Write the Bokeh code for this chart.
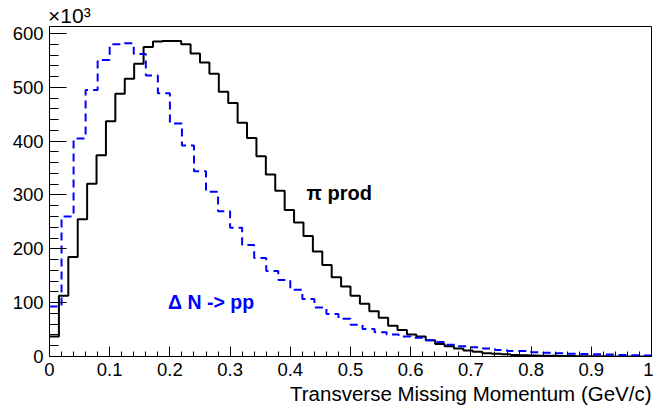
import numpy as np
from bokeh.plotting import figure
from bokeh.models import ColumnDataSource, Label, FixedTicker, Range1d, Title, LinearAxis
from bokeh.embed import file_html
from bokeh.resources import INLINE

# ---- data (counts in units of 10^3) ----
pi_prod_counts = [37, 113, 185, 255, 321, 374, 437, 488, 516, 544, 575, 585, 586, 586, 580, 563,
                  546, 525, 492, 471, 434, 406, 372, 338, 308, 272, 249, 224, 195, 170, 147, 130,
                  113, 98, 84, 72, 57, 49, 41, 37, 30, 23, 19, 15, 11, 9, 6, 5,
                  4, 3, 2.5, 2, 1.5, 1.2, 1.0, 0.8, 0.6, 0.5, 0.4, 0.3, 0.2, 0.2, 0.1, 0.1]
delta_counts = [93, 260, 405, 495, 551, 580, 582, 562, 522, 489, 433, 392, 344, 306, 270, 239,
                207, 183, 159, 142, 124, 107, 91, 79, 70, 59, 51, 45, 41, 37, 35, 30,
                27, 22, 19, 17, 15, 12, 10, 10, 8, 7, 6, 5, 4.5, 4, 3.5, 3, 2.5, 2]
x_min, x_max = 0.0, 1.0
y_max = 613
x_ticks = [0, 0.1, 0.2, 0.3, 0.4, 0.5, 0.6, 0.7, 0.8, 0.9, 1.0]
x_tick_labels = ["0", "0.1", "0.2", "0.3", "0.4", "0.5", "0.6", "0.7", "0.8", "0.9", "1"]
y_ticks = [0, 100, 200, 300, 400, 500, 600]
x_title = "Transverse Missing Momentum (GeV/c)"
y_scale_text = "\u00d710\u00b3"
label_pi = "\u03c0 prod"
label_delta = "\u0394 N -> pp"


def step_source(counts):
    n = len(counts)
    edges = np.linspace(x_min, x_max, n + 1)
    return ColumnDataSource(dict(x=edges, y=list(counts) + [counts[-1]]))


FONT = "Liberation Sans"

p = figure(width=653, height=413, output_backend="svg", toolbar_location=None, title=None,
           x_range=Range1d(x_min, x_max), y_range=Range1d(0, y_max),
           min_border_left=49, min_border_right=2, min_border_top=25, min_border_bottom=57)
p.grid.visible = False
p.outline_line_color = "black"
p.outline_line_width = 1
p.background_fill_color = "white"
p.border_fill_color = "white"

p.step("x", "y", source=step_source(pi_prod_counts), mode="after",
       line_color="black", line_width=2)
p.step("x", "y", source=step_source(delta_counts), mode="after",
       line_color="blue", line_width=2, line_dash="8 5")

# axes
xa = p.xaxis[0]
xa.ticker = FixedTicker(ticks=x_ticks, minor_ticks=[i / 50 for i in range(51)])
xa.major_label_overrides = {t: l for t, l in zip(x_ticks, x_tick_labels)}
xa.major_tick_in = 10
xa.major_tick_out = 0
xa.minor_tick_in = 5
xa.minor_tick_out = 0
xa.major_label_text_font = FONT
xa.major_label_text_font_size = "18.5px"
xa.major_label_text_color = "black"
xa.major_label_standoff = 6
xa.axis_line_color = "black"
xa.major_tick_line_color = "black"
xa.minor_tick_line_color = "black"

ya = p.yaxis[0]
ya.ticker = FixedTicker(ticks=y_ticks, minor_ticks=[i * 20 for i in range(31)])
ya.major_tick_in = 17
ya.major_tick_out = 0
ya.minor_tick_in = 9
ya.minor_tick_out = 0
ya.major_label_text_font = FONT
ya.major_label_text_font_size = "18.5px"
ya.major_label_text_color = "black"
ya.major_label_standoff = 6
ya.axis_line_color = "black"
ya.major_tick_line_color = "black"
ya.minor_tick_line_color = "black"

# x-axis title (right aligned, below the axis)
p.add_layout(Title(text=x_title, align="right", text_font=FONT, text_font_size="20.5px",
                   text_font_style="normal", text_color="black", standoff=2), "below")

# multiplier above the y axis, drawn as the single label of a bare top axis
mult_pos = 0.033
top = LinearAxis(ticker=FixedTicker(ticks=[mult_pos], minor_ticks=[]),
                 major_label_overrides={mult_pos: y_scale_text},
                 axis_line_color=None, major_tick_line_color=None, minor_tick_line_color=None,
                 major_tick_in=0, major_tick_out=0, major_label_standoff=0,
                 major_label_text_font=FONT, major_label_text_font_size="21px",
                 major_label_text_color="black")
p.add_layout(top, "above")

# in-plot texts
p.add_layout(Label(x=0.427, y=304, text=label_pi, text_font=FONT, text_font_size="20px",
                   text_font_style="bold", text_color="black", text_baseline="alphabetic"))
p.add_layout(Label(x=0.197, y=100.5, text=label_delta, text_font=FONT, text_font_size="19.5px",
                   text_font_style="bold", text_color="blue", text_baseline="alphabetic"))

open("out.html", "w").write(file_html(p, INLINE))
